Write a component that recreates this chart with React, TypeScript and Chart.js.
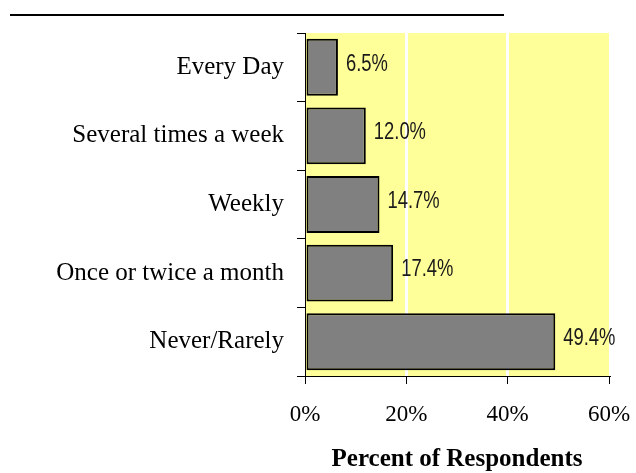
import React, { useEffect, useRef } from "react";
import { Chart, registerables } from "chart.js";

Chart.register(...registerables);

const categories = ["Every Day", "Several times a week", "Weekly", "Once or twice a month", "Never/Rarely"];
const values = [6.5, 12.0, 14.7, 17.4, 49.4];
const valueLabels = ["6.5%", "12.0%", "14.7%", "17.4%", "49.4%"];
const axisTitle = "Percent of Respondents";

const SERIF = "'Liberation Serif', 'Times New Roman', serif";
const SANS = "'Liberation Sans', Arial, sans-serif";

export default function App() {
  const ref = useRef<HTMLCanvasElement | null>(null);
  useEffect(() => {
    if (!ref.current) return;
    const bgPlugin = {
      id: "bg",
      beforeDraw(chart: any) {
        const { ctx, chartArea } = chart;
        ctx.save();
        ctx.fillStyle = "#ffffff";
        ctx.fillRect(0, 0, chart.width, chart.height);
        ctx.fillStyle = "#FFFF99";
        ctx.fillRect(chartArea.left, chartArea.top, chartArea.right - chartArea.left, chartArea.bottom - chartArea.top);
        ctx.strokeStyle = "#000";
        ctx.lineWidth = 2;
        ctx.beginPath();
        ctx.moveTo(10, 15);
        ctx.lineTo(504, 15);
        ctx.stroke();
        ctx.restore();
      },
    };
    const labelPlugin = {
      id: "vlabels",
      afterDatasetsDraw(chart: any) {
        const { ctx } = chart;
        const meta = chart.getDatasetMeta(0);
        ctx.save();
        ctx.font = `23px ${SANS}`;
        ctx.fillStyle = "#1a1a1a";
        ctx.textAlign = "left";
        ctx.textBaseline = "middle";
        meta.data.forEach((bar: any, i: number) => {
          ctx.save();
          ctx.translate(bar.x + 8, bar.y - 3);
          ctx.scale(0.8, 1);
          ctx.fillText(valueLabels[i], 0, 0);
          ctx.restore();
        });
        ctx.restore();
      },
    };
    const chart = new Chart(ref.current, {
      type: "bar",
      data: {
        labels: categories,
        datasets: [
          {
            data: values,
            backgroundColor: "#808080",
            borderColor: "#000000",
            borderWidth: 2,
            borderSkipped: false,
            barPercentage: 0.83,
            categoryPercentage: 1,
          },
        ],
      },
      options: {
        indexAxis: "y",
        responsive: false,
        animation: false,
        layout: { padding: { top: 33, right: 27, left: 0, bottom: 0 } },
        plugins: { legend: { display: false }, tooltip: { enabled: false } },
        scales: {
          x: {
            min: 0,
            max: 60,
            ticks: {
              stepSize: 20,
              callback: (v: any) => v + "%",
              color: "#000",
              font: { family: SERIF, size: 23 },
              padding: 17,
              maxRotation: 0,
            },
            grid: {
              color: (c: any) => (c.tick && (c.tick.value === 20 || c.tick.value === 40) ? "#ffffff" : "rgba(0,0,0,0)"),
              lineWidth: 3,
              tickColor: "#000",
              tickWidth: 1,
              tickLength: 8,
            },
            border: { display: true, color: "#000", width: 1 },
            title: {
              display: true,
              text: axisTitle,
              color: "#000",
              font: { family: SERIF, size: 25, weight: "bold" },
              padding: { top: 0, bottom: -2 },
            },
            afterFit: (s: any) => {
              s.height = 97;
              s.paddingLeft = 0;
              s.paddingRight = 0;
            },
          },
          y: {
            ticks: {
              color: "#000",
              font: { family: SERIF, size: 25 },
              padding: 13,
            },
            grid: {
              drawOnChartArea: false,
              tickColor: "#000",
              tickLength: 8,
              offset: true,
            },
            border: { display: true, color: "#000", width: 1 },
            afterFit: (s: any) => {
              s.width = 305;
            },
          },
        },
      },
      plugins: [bgPlugin, labelPlugin],
    } as any);
    return () => chart.destroy();
  }, []);
  return (
    <div style={{ position: "absolute", left: 0, top: 0, width: 636, height: 473 }}>
      <canvas ref={ref} width={636} height={473} style={{ display: "block" }} />
    </div>
  );
}
